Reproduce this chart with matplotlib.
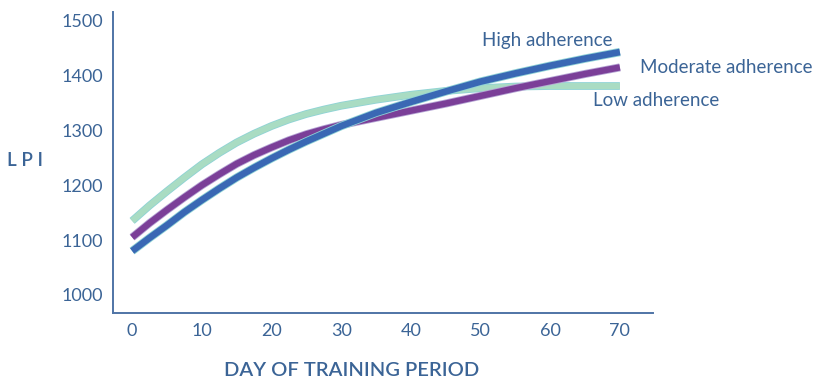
import matplotlib
matplotlib.use("Agg")
import matplotlib.pyplot as plt

# values
days = [0, 2.5, 5, 7.5, 10, 12.5, 15, 17.5, 20, 22.5, 25, 27.5, 30, 35, 40, 45, 50, 55, 60, 65, 70]
high = [1080, 1104, 1127, 1151, 1173, 1194, 1214, 1232, 1249, 1265, 1280, 1294, 1308,
        1332, 1352, 1371, 1389, 1404, 1418, 1431, 1443]
moderate = [1105, 1131, 1155, 1178, 1200, 1220, 1239, 1255, 1269, 1282, 1293, 1302, 1310,
            1323, 1336, 1349, 1363, 1377, 1390, 1403, 1415]
low = [1135, 1163, 1189, 1214, 1238, 1259, 1278, 1294, 1308, 1320, 1330, 1338, 1345,
       1356, 1365, 1372, 1377, 1380, 1381, 1381, 1381]

xticks = [0, 10, 20, 30, 40, 50, 60, 70]
yticks = [1000, 1100, 1200, 1300, 1400, 1500]

txt = "#3b6496"
plt.rcParams["font.family"] = ["Lato", "DejaVu Sans"]

fig = plt.figure(figsize=(8.14, 3.81), dpi=100)
ax = fig.add_axes([0.1388, 0.1785, 0.6634, 0.79])

edge = "#8fd3d6"
kw = dict(solid_capstyle="butt", solid_joinstyle="round")
ax.plot(days, low, color=edge, lw=5.6, zorder=2, **kw)
ax.plot(days, low, color="#a9dcc3", lw=4.4, zorder=2, **kw)
ax.plot(days, moderate, color="#b5a4d4", lw=5.8, zorder=3, **kw)
ax.plot(days, moderate, color="#7b3f98", lw=4.6, zorder=3, **kw)
ax.plot(days, high, color=edge, lw=6.0, zorder=4, **kw)
ax.plot(days, high, color="#3a68b4", lw=4.8, zorder=4, **kw)

ax.set_xlim(-2.75, 74.75)
ax.set_ylim(967, 1516)
ax.set_xticks(xticks)
ax.set_yticks(yticks)
ax.tick_params(length=0, labelsize=13, labelcolor=txt)
ax.tick_params(axis="y", pad=7)
ax.tick_params(axis="x", pad=7)
for s in ["top", "right"]:
    ax.spines[s].set_visible(False)
for s in ["left", "bottom"]:
    ax.spines[s].set_color("#4f74a6")
    ax.spines[s].set_linewidth(1.4)

fig.text(0.752, 0.895, "High adherence", color=txt, fontsize=13.5,
         ha="right", va="center")
fig.text(0.786, 0.824, "Moderate adherence", color=txt, fontsize=13.5,
         ha="left", va="center")
fig.text(0.7285, 0.735, "Low adherence", color=txt, fontsize=13.5,
         ha="left", va="center")

fig.text(0.031, 0.58, "L P I", color=txt, fontsize=13.5, fontweight="semibold",
         ha="center", va="center")
fig.text(0.432, 0.012, "DAY OF TRAINING PERIOD", color=txt, fontsize=14.5,
         fontweight="semibold", ha="center", va="baseline")

fig.savefig("out.png", dpi=100)
